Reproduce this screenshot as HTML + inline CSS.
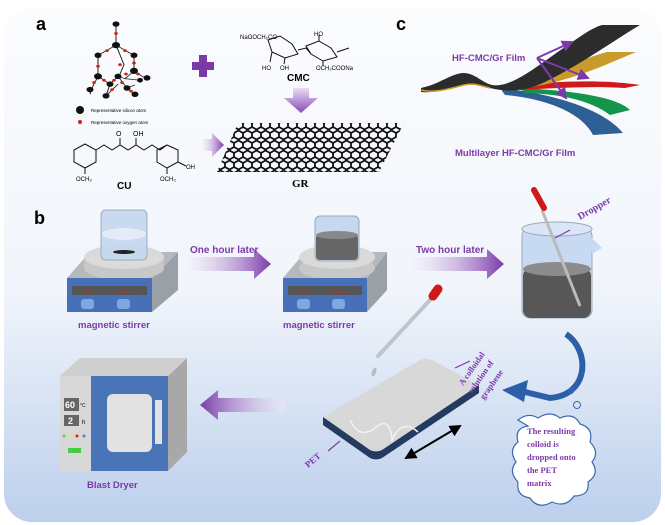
<!DOCTYPE html>
<html><head><meta charset="utf-8"><style>
html,body{margin:0;padding:0;background:#fff}
svg{display:block}
text{font-family:"Liberation Sans",sans-serif}
.s{font-family:"Liberation Serif",serif}
</style></head><body>
<svg width="665" height="525" viewBox="0 0 665 525" xmlns="http://www.w3.org/2000/svg">
<defs>
<linearGradient id="bg" x1="0" y1="0" x2="0" y2="1">
<stop offset="0" stop-color="#fbfcfe"/><stop offset="0.55" stop-color="#f1f5fb"/><stop offset="1" stop-color="#bccfec"/></linearGradient>
<linearGradient id="ar" x1="0" y1="0" x2="1" y2="0">
<stop offset="0" stop-color="#f3eefa" stop-opacity="0.3"/><stop offset="1" stop-color="#7a3aa8"/></linearGradient>
<linearGradient id="al" x1="1" y1="0" x2="0" y2="0">
<stop offset="0" stop-color="#f3eefa" stop-opacity="0.3"/><stop offset="1" stop-color="#7a3aa8"/></linearGradient>
<linearGradient id="ad" x1="0" y1="0" x2="0" y2="1">
<stop offset="0" stop-color="#e8dcf4"/><stop offset="1" stop-color="#8a4ab8"/></linearGradient>
<marker id="m" markerWidth="6" markerHeight="6" refX="5" refY="3" orient="auto"><path d="M0,0 L6,3 L0,6z" fill="#7b3aa8"/></marker>
<marker id="k" markerWidth="6" markerHeight="6" refX="5" refY="3" orient="auto"><path d="M0,0 L6,3 L0,6z" fill="#000"/></marker>
<marker id="k2" markerWidth="6" markerHeight="6" refX="1" refY="3" orient="auto"><path d="M6,0 L0,3 L6,6z" fill="#000"/></marker>
<pattern id="gr" width="9" height="10" patternUnits="userSpaceOnUse">
<path d="M0,3 l4.5,-2.5 l4.5,2.5 M0,7 l4.5,2.5 l4.5,-2.5 M0,3 v4 M9,3 v4" stroke="#111" stroke-width="1.8" fill="none"/>
</pattern>
</defs>
<rect x="4" y="8" width="657" height="514" rx="28" fill="url(#bg)"/>

<text x="36" y="30" font-size="18" font-weight="bold">a</text>
<text x="396" y="30" font-size="18" font-weight="bold">c</text>
<text x="34" y="224" font-size="18" font-weight="bold">b</text>

<!-- silicate cage -->
<g transform="translate(0,-4) scale(1,0.78) translate(0,8)">
<g stroke="#222" stroke-width="1" fill="none">
<path d="M116,28 L116,55 L98,68 L98,95 L92,110 M116,55 L134,68 L134,88 L142,95 L147,97 M98,95 L110,105 L118,95 L125,98 L134,88 M110,105 L106,120 M118,95 L127,110 L135,118 M125,98 L140,100 M92,110 L90,118 M106,120 L118,105 M127,110 L135,106 M116,55 L124,80 L120,92"/>
</g>
<g fill="#111">
<circle cx="116" cy="28" r="3.5"/><circle cx="116" cy="55" r="4"/><circle cx="98" cy="68" r="3.5"/><circle cx="134" cy="68" r="3.5"/>
<circle cx="98" cy="95" r="4"/><circle cx="134" cy="88" r="4"/><circle cx="147" cy="97" r="3.5"/><circle cx="110" cy="105" r="3.5"/>
<circle cx="118" cy="95" r="3.5"/><circle cx="90" cy="112" r="3.5"/><circle cx="106" cy="120" r="3.5"/><circle cx="135" cy="118" r="3.5"/><circle cx="127" cy="110" r="3.5"/><circle cx="140" cy="100" r="3"/>
</g>
<g fill="#c21">
<circle cx="116" cy="40" r="1.8"/><circle cx="107" cy="62" r="1.8"/><circle cx="125" cy="62" r="1.8"/><circle cx="98" cy="82" r="1.8"/><circle cx="134" cy="78" r="1.8"/>
<circle cx="104" cy="100" r="1.8"/><circle cx="114" cy="100" r="1.8"/><circle cx="126" cy="92" r="1.8"/><circle cx="138" cy="92" r="1.8"/><circle cx="94" cy="103" r="1.8"/>
<circle cx="122" cy="103" r="1.8"/><circle cx="112" cy="112" r="1.8"/><circle cx="131" cy="114" r="1.8"/><circle cx="120" cy="80" r="1.8"/>
</g>
</g>
<circle cx="80" cy="110" r="4" fill="#111"/><text x="91" y="112" font-size="4.5">Representative silicon atom</text>
<circle cx="80" cy="122" r="2" fill="#c21"/><text x="91" y="124" font-size="4.5">Representative oxygen atom</text>

<path d="M199,55h8v7h7v8h-7v7h-8v-7h-7v-8h7z" fill="#7a3aa8"/>

<!-- CMC -->
<g stroke="#111" stroke-width="1" fill="none">
<path d="M268,40 L280,36 L292,44 L298,54 L285,58 L272,52 Z M306,46 L319,41 L331,48 L337,57 L323,61 L311,54 Z M298,50 L306,48 L311,54 M337,52 L349,48 M323,61 L323,66 M272,52 L270,62 M285,58 L284,64 M319,41 L319,35"/>
</g>
<text x="240" y="39" font-size="6">NaOOCH₂CO</text>
<text x="314" y="36" font-size="6">HO</text>
<text x="262" y="70" font-size="6">HO</text><text x="280" y="70" font-size="6">OH</text>
<text x="316" y="70" font-size="6">OCH₂COONa</text>
<text x="287" y="81" font-size="10" font-weight="bold">CMC</text>
<path d="M293,88h16v10h9l-17,15l-17,-15h9z" fill="url(#ad)"/>

<!-- GR -->
<path d="M238,123 L404,123 L379,172 L217,172 Z" fill="url(#gr)"/>
<text x="292" y="187" font-size="11" class="s" font-weight="bold">GR</text>

<!-- CU -->
<g stroke="#111" stroke-width="1" fill="none">
<path d="M74,150 L85,144 L96,150 L96,162 L85,168 L74,162 Z M96,150 L104,145 L112,150 L120,145 L128,150 L136,145 L144,150 L152,145 L160,150 L167,145 L178,150 L178,162 L167,168 L157,162 L157,150 L167,145 M120,145 L120,138 M136,145 L136,138 M85,168 L85,174 M167,168 L167,174 M178,162 L186,166"/>
</g>
<text x="116" y="136" font-size="7">O</text><text x="133" y="136" font-size="7">OH</text>
<text x="76" y="181" font-size="6">OCH₃</text><text x="160" y="181" font-size="6">OCH₃</text><text x="186" y="169" font-size="6">OH</text>
<text x="117" y="189" font-size="10" font-weight="bold">CU</text>
<path d="M202,139h10v-6l12,12l-12,12v-6h-10z" fill="url(#ar)"/>

<!-- c films -->
<path d="M500,88 C540,92 600,105 623,133 L593,135 C580,110 540,98 505,95 Z" fill="#2e5f95"/>
<path d="M520,88 C560,90 615,95 630,110 L610,115 C590,100 560,94 525,93Z" fill="#13964a"/>
<path d="M515,86 C560,80 610,80 640,85 L625,88 C590,86 560,88 520,90Z" fill="#d01a1a"/>
<path d="M505,86 C540,82 575,60 607,52 L636,52 C605,65 570,82 520,89Z" fill="#c99b2a"/>
<path d="M421,88 C440,84 450,74 463,73 C478,73 485,88 500,85 C520,82 545,60 568,45 C582,35 592,28 602,25 L640,25 C615,40 580,65 545,82 C525,92 505,92 490,88 C478,85 472,82 460,86 C445,90 432,93 421,92Z" fill="#2c2c2c"/>
<path d="M421,90 C432,93 445,90 460,86 C472,82 478,85 490,88" stroke="#c99b2a" stroke-width="1.5" fill="none"/>
<g stroke="#7b3aa8" stroke-width="2" fill="none">
<path d="M537,58 L572,42" marker-end="url(#m)"/><path d="M537,58 L588,78" marker-end="url(#m)"/><path d="M537,58 L566,98" marker-end="url(#m)"/>
</g>
<text x="452" y="61" font-size="9.5" font-weight="bold" fill="#7b3aa8">HF-CMC/Gr Film</text>
<text x="455" y="156" font-size="9.5" font-weight="bold" fill="#7b3aa8">Multilayer HF-CMC/Gr Film</text>

<!-- stirrer 1 -->
<g>
<path d="M152,278 L178,252 L178,290 L152,312Z" fill="#9aa0a8"/>
<path d="M67,278 L90,252 L178,252 L152,278Z" fill="#b5b8bd"/>
<rect x="84" y="257" width="80" height="10" fill="#c6c6c6"/>
<ellipse cx="124" cy="268" rx="40" ry="12" fill="#c8c8c8"/>
<ellipse cx="124" cy="257" rx="40" ry="12" fill="#dadada"/>
<rect x="67" y="278" width="85" height="34" fill="#4870b8"/>
<rect x="72" y="286" width="75" height="9" fill="#555"/><text x="84" y="293" font-size="4" fill="#e22">60°C</text><text x="118" y="293" font-size="4" fill="#e22">800rpm</text>
<rect x="81" y="299" width="13" height="10" rx="3" fill="#7ea8e0"/><rect x="117" y="299" width="13" height="10" rx="3" fill="#7ea8e0"/>
<rect x="101" y="210" width="46" height="50" rx="5" fill="#c6d8f0" stroke="#9ab" opacity="0.95"/>
<ellipse cx="124" cy="234" rx="22" ry="6" fill="#e4ecf8"/><ellipse cx="124" cy="252" rx="11" ry="2" fill="#222"/>
</g>
<text x="78" y="328" font-size="9.5" font-weight="bold" fill="#7b3aa8">magnetic stirrer</text>

<path d="M187,257h67v-8l17,15l-17,15v-8h-67z" fill="url(#ar)"/>
<text x="190" y="253" font-size="10" font-weight="bold" fill="#7b3aa8">One hour later</text>

<!-- stirrer 2 -->
<g>
<path d="M367,278 L387,252 L387,290 L367,312Z" fill="#9aa0a8"/>
<path d="M283,278 L305,252 L387,252 L367,278Z" fill="#b5b8bd"/>
<ellipse cx="337" cy="268" rx="38" ry="12" fill="#c8c8c8"/>
<ellipse cx="337" cy="257" rx="38" ry="12" fill="#dadada"/>
<rect x="283" y="278" width="84" height="34" fill="#4870b8"/>
<rect x="288" y="286" width="74" height="9" fill="#555"/><text x="298" y="293" font-size="4" fill="#e22">60°C</text><text x="332" y="293" font-size="4" fill="#e22">1000rpm</text>
<rect x="297" y="299" width="13" height="10" rx="3" fill="#7ea8e0"/><rect x="332" y="299" width="13" height="10" rx="3" fill="#7ea8e0"/>
<rect x="315" y="216" width="44" height="45" rx="5" fill="#c6d8f0" stroke="#9ab"/>
<rect x="316" y="234" width="42" height="26" rx="4" fill="#666"/><ellipse cx="337" cy="235" rx="21" ry="4" fill="#888"/>
</g>
<text x="283" y="328" font-size="9.5" font-weight="bold" fill="#7b3aa8">magnetic stirrer</text>

<path d="M413,257h74v-8l17,15l-17,15v-8h-74z" fill="url(#ar)"/>
<text x="416" y="253" font-size="10" font-weight="bold" fill="#7b3aa8">Two hour later</text>

<!-- beaker 3 -->
<rect x="522" y="228" width="70" height="90" rx="8" fill="#c8daf2" stroke="#9ab"/>
<ellipse cx="557" cy="229" rx="35" ry="7" fill="#dae6f6" stroke="#9ab"/>
<path d="M590,236 L602,248 L592,254Z" fill="#c8daf2"/>
<rect x="523" y="268" width="68" height="50" rx="8" fill="#575757"/>
<ellipse cx="557" cy="269" rx="34" ry="7" fill="#8c8c8c"/>
<path d="M542,210 L580,306" stroke="#bbb" stroke-width="3"/>
<path d="M534,190 L544,208" stroke="#d01818" stroke-width="6" stroke-linecap="round"/>
<path d="M555,238 L570,230" stroke="#7b3aa8" stroke-width="1.2"/>
<text x="580" y="220" font-size="10" class="s" font-weight="bold" fill="#7b3aa8" transform="rotate(-30 580 220)">Dropper</text>

<!-- pipette -->
<path d="M430,300 L378,356" stroke="#c0c4cc" stroke-width="4" stroke-linecap="round"/>
<path d="M433,296 L438,289" stroke="#d01818" stroke-width="9" stroke-linecap="round"/>
<ellipse cx="374" cy="372" rx="2.2" ry="4.5" fill="#bbb" transform="rotate(20 374 372)"/>
<ellipse cx="376" cy="396" rx="2.2" ry="4.5" fill="#bbb" transform="rotate(20 376 396)"/>

<!-- PET plate -->
<path d="M323,417 L323,425 L370,458 Q376,461 382,458 L479,393 L479,385Z" fill="#243a5e"/>
<path d="M323,417 L420,360 Q426,357 432,360 L479,385 L382,450 Q376,453 370,450 Z" fill="#d8d8d8"/>
<path d="M350,420 Q360,440 375,428 Q390,415 392,440 Q402,418 418,432" stroke="#f2f2f2" stroke-width="1.5" fill="none"/>
<path d="M455,368 L470,361" stroke="#7b3aa8" stroke-width="1.2"/>
<text x="463" y="386" font-size="8.5" class="s" font-weight="bold" fill="#7b3aa8" transform="rotate(-55 463 386)">A colloidal</text>
<text x="472" y="394" font-size="8.5" class="s" font-weight="bold" fill="#7b3aa8" transform="rotate(-55 472 394)">solution of</text>
<text x="484" y="400" font-size="8.5" class="s" font-weight="bold" fill="#7b3aa8" transform="rotate(-55 484 400)">graphene</text>
<path d="M328,451 L340,441" stroke="#7b3aa8" stroke-width="1.2"/>
<text x="308" y="468" font-size="9" class="s" font-weight="bold" fill="#7b3aa8" transform="rotate(-40 308 468)">PET</text>
<path d="M406,458 L460,426" stroke="#000" stroke-width="2" marker-start="url(#k2)" marker-end="url(#k)"/>

<!-- curved blue arrow -->
<path d="M566,334 C590,350 590,395 550,398 L525,392" stroke="#2d5fa8" stroke-width="6" fill="none"/>
<path d="M528,380 L502,390 L524,402Z" fill="#2d5fa8"/>
<circle cx="571" cy="391" r="2.5" fill="none" stroke="#3a6ab0"/><circle cx="577" cy="405" r="3.5" fill="none" stroke="#3a6ab0"/>

<!-- cloud -->
<path d="M518,420 q10,-8 20,-2 q12,-8 22,0 q14,-6 20,6 q14,4 10,18 q10,10 2,20 q8,12 -4,20 q2,14 -14,14 q-8,12 -22,6 q-14,8 -22,-4 q-14,-2 -12,-16 q-10,-10 -2,-20 q-8,-12 2,-20 q-4,-14 10,-16 z" fill="#fff" stroke="#3a6ab0" stroke-width="1.2"/>
<g font-size="8.5" font-weight="bold" fill="#7b3aa8">
<text x="527" y="434" class="s">The resulting</text>
<text x="527" y="447" class="s">colloid is</text>
<text x="527" y="460" class="s">dropped onto</text>
<text x="527" y="473" class="s">the PET</text>
<text x="527" y="486" class="s">matrix</text>
</g>

<path d="M285,398h-67v-8l-18,15l18,15v-8h67z" fill="url(#al)"/>

<!-- dryer -->
<path d="M168,376 L187,358 L187,452 L168,471Z" fill="#a8a8a8"/>
<path d="M60,376 L80,358 L187,358 L168,376Z" fill="#cfcfcf"/>
<rect x="60" y="376" width="31" height="95" fill="#d8d8d8"/>
<rect x="91" y="376" width="77" height="95" fill="#4a74b8"/>
<rect x="107" y="394" width="45" height="58" rx="6" fill="#e2e2e2"/>
<rect x="155" y="400" width="7" height="44" fill="#e2e2e2"/>
<rect x="64" y="398" width="15" height="13" fill="#666"/><text x="65" y="408" font-size="9" fill="#fff" font-weight="bold">60</text><text x="80" y="407" font-size="5">°C</text>
<rect x="64" y="415" width="15" height="11" fill="#666"/><text x="68" y="424" font-size="9" fill="#fff" font-weight="bold">2</text><text x="82" y="424" font-size="6">h</text>
<circle cx="64" cy="436" r="1.5" fill="#6c6"/><circle cx="70" cy="436" r="1.5" fill="#ee4"/><circle cx="77" cy="436" r="1.5" fill="#d22"/><circle cx="84" cy="436" r="1.5" fill="#48c"/>
<rect x="68" y="448" width="13" height="5" fill="#4c4"/>
<text x="87" y="488" font-size="9.5" font-weight="bold" fill="#7b3aa8">Blast Dryer</text>
</svg>
</body></html>
